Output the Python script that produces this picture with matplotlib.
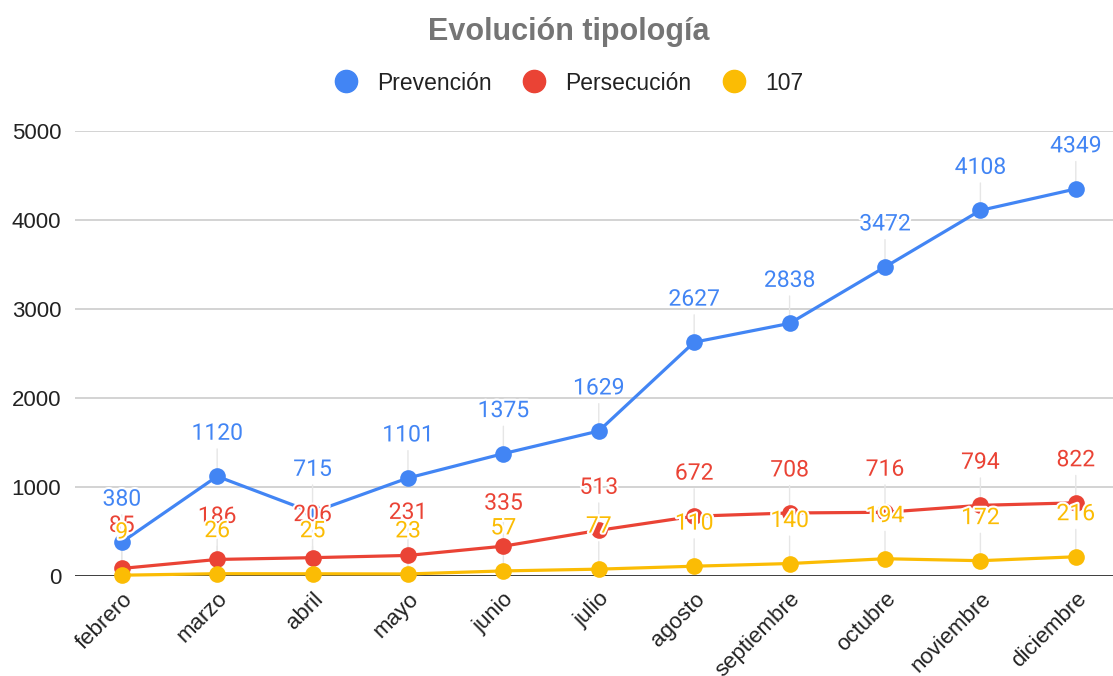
import matplotlib
matplotlib.use("Agg")
import matplotlib.pyplot as plt
import matplotlib.patheffects as pe
from matplotlib.lines import Line2D

plt.rcParams['font.family'] = ['Liberation Sans', 'DejaVu Sans']

months = ["febrero", "marzo", "abril", "mayo", "junio", "julio", "agosto",
          "septiembre", "octubre", "noviembre", "diciembre"]
prevencion = [380, 1120, 715, 1101, 1375, 1629, 2627, 2838, 3472, 4108, 4349]
persecucion = [85, 186, 206, 231, 335, 513, 672, 708, 716, 794, 822]
s107 = [9, 26, 25, 23, 57, 77, 110, 140, 194, 172, 216]
series_names = ["Prevención", "Persecución", "107"]
colors = ["#4285F4", "#EA4335", "#FBBC04"]
yticks = [0, 1000, 2000, 3000, 4000, 5000]

fig = plt.figure(figsize=(11.13, 6.76), dpi=100)
ax = fig.add_axes([75/1113, 1-576/676, 1-75/1113, (576-131)/676])

x = list(range(len(months)))
all_series = [prevencion, persecucion, s107]

for i, (vals, c) in enumerate(zip(all_series, colors)):
    ax.plot(x, vals, color=c, lw=2.3, marker='o', markersize=12,
            markeredgewidth=0, zorder=3 + i * 0.1, solid_capstyle='round',
            clip_on=False)

# leader lines (behind)
for vals in all_series:
    for xi, v in zip(x, vals):
        ax.annotate(str(v), xy=(xi, v), xytext=(0, 31), textcoords='offset points',
                    ha='center', va='center', fontsize=16.5, alpha=0,
                    family='Roboto',
                    arrowprops=dict(arrowstyle='-', color='#e6e6e6', lw=1,
                                    shrinkA=1, shrinkB=0),
                    zorder=1, annotation_clip=False)

# labels on top
for i, (vals, c) in enumerate(zip(all_series, colors)):
    for xi, v in zip(x, vals):
        ax.annotate(str(v), xy=(xi, v), xytext=(0, 31), textcoords='offset points',
                    ha='center', va='center', fontsize=16.5, color=c,
                    family='Roboto',
                    path_effects=[pe.withStroke(linewidth=3, foreground='white')],
                    zorder=6 + i * 0.1, annotation_clip=False)

ax.set_xlim(-0.49, 10.39)
ax.set_ylim(0, 5000)
ax.set_yticks(yticks)
ax.set_yticklabels([str(t) for t in yticks], fontsize=16, color='#222222')
ax.set_xticks(x)
ax.set_xticklabels(months, rotation=45, ha='right', va='top', fontsize=16,
                   color='#222222', rotation_mode='anchor')
ax.tick_params(axis='both', length=0)
ax.tick_params(axis='y', pad=10)
ax.tick_params(axis='x', pad=9)
for s in ax.spines.values():
    s.set_visible(False)
ax.grid(axis='y', color='#cccccc', lw=1.2, zorder=0)
ax.set_axisbelow(True)
ax.axhline(0, color='#333333', lw=1.3, zorder=2)

fig.text(0.511, 1-32/676, "Evolución tipología", ha='center', va='center',
         fontsize=22, fontweight='bold', color='#757575')

handles = [Line2D([], [], marker='o', color=c, linestyle='', markersize=16)
           for c in colors]
fig.legend(handles, series_names, loc='center', bbox_to_anchor=(0.506, 1-83/676),
           ncol=3, frameon=False, fontsize=16.5, handletextpad=0.35,
           columnspacing=0.85, labelcolor='#222222')

fig.savefig("out.png", dpi=100)
